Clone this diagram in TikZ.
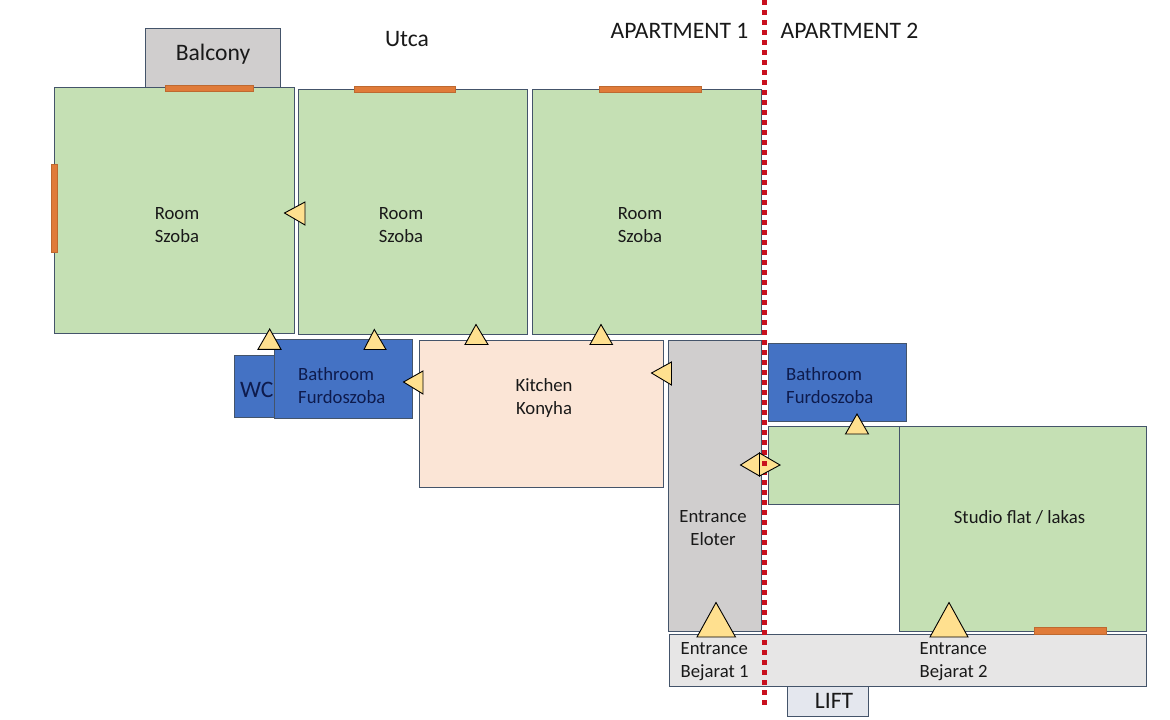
\documentclass[tikz,border=0pt]{standalone}
\usepackage{fontspec}
\setmainfont{Carlito}
\definecolor{edge}{HTML}{44546A}
\definecolor{roomgreen}{HTML}{C5E0B4}
\definecolor{wetblue}{HTML}{4472C4}
\definecolor{peach}{HTML}{FBE5D6}
\definecolor{midgrey}{HTML}{D0CECE}
\definecolor{lightgrey}{HTML}{E7E6E6}
\definecolor{liftgrey}{HTML}{E4E7EE}
\definecolor{winorange}{HTML}{E07B39}
\definecolor{doorfill}{HTML}{FFE08F}
\definecolor{redline}{HTML}{C8101E}
\definecolor{navytext}{HTML}{0E1B4D}
\tikzset{
  x=1pt,y=-1pt,
  room/.style={draw=edge,line width=1pt},
  win/.style={fill=winorange,draw=winorange!85!black,line width=0.6pt},
  door/.style={fill=doorfill,draw=black,line width=0.9pt,line join=miter},
  lbl/.style={inner sep=0pt,align=center,font=\fontsize{18.7}{23}\selectfont,text=black!90},
  lblleft/.style={lbl,align=left,anchor=west},
  big/.style={inner sep=0pt,font=\fontsize{23.6}{28}\selectfont,text=black!90},
}
\begin{document}
\begin{tikzpicture}
\useasboundingbox (0,0) rectangle (1170,720);
\fill[white] (0,0) rectangle (1170,720);
% rooms
\draw[room,fill=midgrey] (145,28) rectangle (280.5,87);
\draw[room,fill=roomgreen] (54,87) rectangle (294.5,333);
\draw[room,fill=roomgreen] (298,89) rectangle (527.5,334);
\draw[room,fill=roomgreen] (532,89) rectangle (761.5,334);
\draw[room,fill=wetblue] (234,355) rectangle (275,417);
\draw[room,fill=wetblue] (274,339) rectangle (412.5,418);
\draw[room,fill=peach] (419,340) rectangle (663.5,487);
\draw[room,fill=midgrey] (668,340) rectangle (761.5,631);
\draw[room,fill=wetblue] (768,343) rectangle (906.5,421);
\draw[room,fill=roomgreen] (768,426.5) rectangle (899.5,504);
\draw[room,fill=roomgreen] (899,426.5) rectangle (1146.5,631);
\draw[room,fill=lightgrey] (669,634) rectangle (1146.5,686);
\draw[room,fill=liftgrey] (787,686) rectangle (868.5,716);
% windows
\draw[win] (165,85) rectangle (253.5,91);
\draw[win] (51,164) rectangle (57,252.5);
\draw[win] (354,86) rectangle (455.5,92);
\draw[win] (599,86) rectangle (701.5,92);
\draw[win] (1034,627.5) rectangle (1106.5,634);
% apartment divider
\draw[redline,line width=5.4pt,dash pattern=on 5.4pt off 4.6pt] (764.5,0) -- (764.5,706);
% doors
\draw[door] (269.7,329) -- (281,349.3) -- (258,349.3) -- cycle;
\draw[door] (374.3,329.5) -- (386,349.5) -- (364,349.5) -- cycle;
\draw[door] (476,324.5) -- (488,344.5) -- (465,344.5) -- cycle;
\draw[door] (601,324.5) -- (612.5,344.5) -- (590,344.5) -- cycle;
\draw[door] (284.5,213) -- (305,202) -- (305,225) -- cycle;
\draw[door] (403.5,382) -- (423,371) -- (423,394) -- cycle;
\draw[door] (651.5,373) -- (671.5,362) -- (671.5,385) -- cycle;
\draw[door] (857,414) -- (868.5,434) -- (845.5,434) -- cycle;
\draw[door] (780,465) -- (759.5,453) -- (759.5,476) -- cycle;
\draw[door] (740.5,465) -- (759.5,453) -- (759.5,476) -- cycle;
\fill[redline] (762,461) rectangle (767,466);
\draw[door] (716,602.5) -- (735.5,637) -- (697,637) -- cycle;
\draw[door] (949,602.5) -- (968,637) -- (930,637) -- cycle;
% labels
\node[big] (balcony) at (213,54.5) {Balcony};
\node[big] (utca) at (407,39) {Utca};
\node[big] (apt1) at (679.5,31) {APARTMENT 1};
\node[big] (apt2) at (849.5,31) {APARTMENT 2};
\node[lbl] (r1) at (177,225) {Room\\Szoba};
\node[lbl] (r2) at (401,225) {Room\\Szoba};
\node[lbl] (r3) at (640,225) {Room\\Szoba};
\node[big,anchor=west,text=navytext] (wc) at (240,390) {WC};
\node[lblleft,text=navytext] (b1) at (298,386) {Bathroom\\Furdoszoba};
\node[lblleft,text=navytext] (b2) at (786,386) {Bathroom\\Furdoszoba};
\node[lbl] (kitchen) at (544,398.5) {Kitchen\\Konyha};
\node[lbl] (entr) at (713,528) {Entrance\\Eloter};
\node[lbl] (studio) at (1019.5,517.5) {Studio flat / lakas};
\node[lblleft] (bej1) at (680.5,662) {Entrance\\Bejarat 1};
\node[lblleft] (bej2) at (919.5,662) {Entrance\\Bejarat 2};
\node[big] (lift) at (834,700.5) {LIFT};
\end{tikzpicture}
\end{document}
